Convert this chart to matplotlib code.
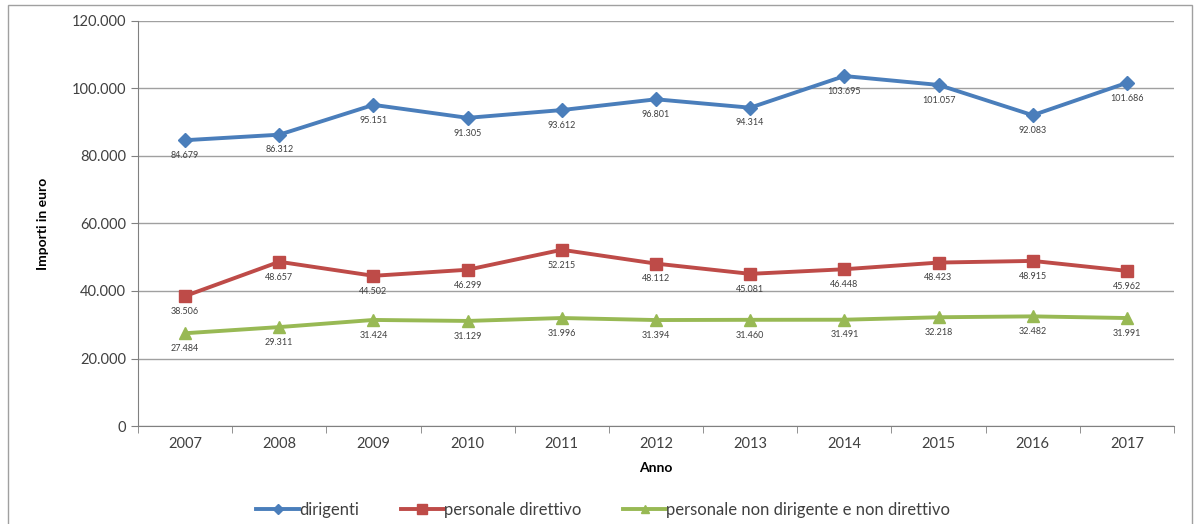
import numpy as np
import matplotlib.pyplot as plt
from matplotlib.patches import Rectangle
from matplotlib.ticker import FuncFormatter, FixedLocator

plt.rcParams['font.family'] = ['Lato', 'DejaVu Sans']

anni = ['2007', '2008', '2009', '2010', '2011', '2012', '2013', '2014', '2015', '2016', '2017']
dirigenti = [84679, 86312, 95151, 91305, 93612, 96801, 94314, 103695, 101057, 92083, 101686]
direttivo = [38506, 48657, 44502, 46299, 52215, 48112, 45081, 46448, 48423, 48915, 45962]
non_dirigente = [27484, 29311, 31424, 31129, 31996, 31394, 31460, 31491, 32218, 32482, 31991]

def fmt_it(v, pos=None):
    return '{:,.0f}'.format(v).replace(',', '.')

fig = plt.figure(figsize=(11.95, 5.24), dpi=100)
ax = fig.add_axes([138 / 1195, 1 - 426 / 524, (1174 - 138) / 1195, (426 - 21) / 524])

# cornice esterna del grafico
fig.patches.append(Rectangle((8 / 1195, -0.01), (1192 - 8) / 1195, (519 + 5) / 524,
                             transform=fig.transFigure, fill=False,
                             edgecolor='#a0a0a0', linewidth=1))

x = np.arange(len(anni))
series = [
    (dirigenti, 'dirigenti', '#4A7EBB', 'D', 7),
    (direttivo, 'personale direttivo', '#BE4B48', 's', 9),
    (non_dirigente, 'personale non dirigente e non direttivo', '#98B954', '^', 8),
]
for vals, name, col, mk, ms in series:
    ax.plot(x, vals, color=col, linewidth=2.8, marker=mk, markersize=ms, label=name, zorder=3)
    for xi, v in zip(x, vals):
        ax.annotate(fmt_it(v), (xi, v), xytext=(0, -11), textcoords='offset points',
                    ha='center', va='center', fontsize=6.5, color='#404040', zorder=4)

ax.set_xlim(-0.5, len(anni) - 0.5)
ax.set_ylim(0, 120000)
ax.set_yticks(np.arange(0, 120001, 20000))
ax.yaxis.set_major_formatter(FuncFormatter(fmt_it))
ax.set_xticks(x)
ax.set_xticklabels(anni)
ax.xaxis.set_minor_locator(FixedLocator(np.arange(-0.5, len(anni), 1.0)))
ax.tick_params(axis='x', which='major', length=0, labelsize=10.5, pad=8, colors='#404040')
ax.tick_params(axis='x', which='minor', length=5, direction='out', color='#808080')
ax.tick_params(axis='y', length=5, direction='out', color='#808080', labelsize=10.5,
               labelcolor='#404040')
ax.grid(axis='y', color='#a0a0a0', linewidth=1)
ax.set_axisbelow(True)
for s in ['top', 'right']:
    ax.spines[s].set_visible(False)
for s in ['left', 'bottom']:
    ax.spines[s].set_color('#808080')

ax.set_xlabel('Anno', fontsize=10, fontweight='bold', labelpad=8)
ax.set_ylabel('Importi in euro', fontsize=10, fontweight='bold', labelpad=16)

leg = ax.legend(loc='upper center', bbox_to_anchor=(0.449, -0.15), ncol=3, frameon=False,
                fontsize=12, handlelength=2.6, columnspacing=2.5, handletextpad=0.0,
                labelcolor='#404040')
for h in leg.legend_handles:
    h.set_markersize(h.get_markersize() * 0.8)

fig.savefig('out.png', dpi=100)
